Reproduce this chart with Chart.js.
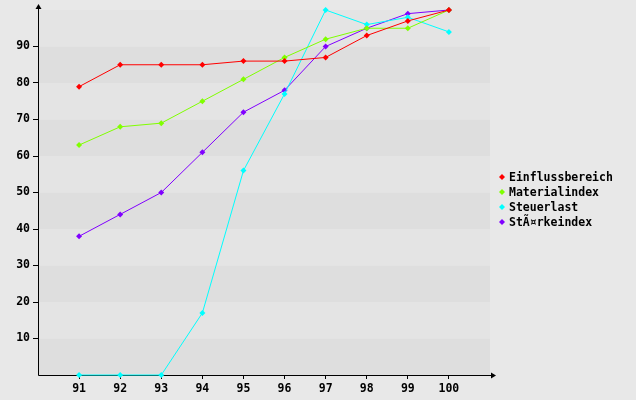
<!doctype html>
<html lang="de">
  <head>
    <meta charset="UTF-8" />
    <title>Indexverlauf 91-100</title>
    <script src="https://cdn.jsdelivr.net/npm/chart.js"></script>
    <style>
      html, body { margin: 0; padding: 0; background: #e8e8e8; }
      .chart-container { position: relative; width: 636px; height: 400px; }
    </style>
  </head>
  <body>
    <div class="chart-container">
      <canvas id="indexChart"></canvas>
    </div>

    <script>
      const years = [91, 92, 93, 94, 95, 96, 97, 98, 99, 100]
      const seriesNames = ['Einflussbereich', 'Materialindex', 'Steuerlast', 'StÃ¤rkeindex']
      const einfluss = [79, 85, 85, 85, 86, 86, 87, 93, 97, 100]
      const material = [63, 68, 69, 75, 81, 87, 92, 95, 95, 100]
      const steuer = [0, 0, 0, 17, 56, 77, 100, 96, 98, 94]
      const staerke = [38, 44, 50, 61, 72, 78, 90, 95, 99, 100]
      const yTicks = [10, 20, 30, 40, 50, 60, 70, 80, 90]
      const colors = ['#ff0000', '#80ff00', '#00ffff', '#8000ff']

      const FONT = { family: 'DejaVu Sans Mono', size: 11.5, weight: 'bold' }

      const makeSet = (i, values) => ({
        label: seriesNames[i],
        data: years.map((y, k) => ({ x: y, y: values[k] })),
        borderColor: colors[i],
        backgroundColor: colors[i],
        borderWidth: 1,
        pointStyle: 'rectRot',
        pointRadius: 3,
        pointBorderWidth: 0,
        tension: 0,
        clip: false
      })

      // Hintergrundstreifen
      const bands = {
        id: 'bands',
        beforeDraw(chart) {
          const { ctx, chartArea: a, scales } = chart
          ctx.save()
          ctx.fillStyle = '#e8e8e8'
          ctx.fillRect(0, 0, chart.width, chart.height)
          for (let v = 0; v < 100; v += 10) {
            const y1 = scales.y.getPixelForValue(v + 10)
            const y0 = scales.y.getPixelForValue(v)
            ctx.fillStyle = (v / 10) % 2 === 0 ? '#dedede' : '#e4e4e4'
            ctx.fillRect(a.left, y1, a.right - a.left, y0 - y1)
          }
          ctx.restore()
        }
      }

      // Achsen mit Pfeilen
      const arrows = {
        id: 'arrows',
        beforeDatasetsDraw(chart) {
          const { ctx, chartArea: a } = chart
          const x0 = Math.round(a.left) + 0.5
          const y0 = Math.round(a.bottom) + 0.5
          ctx.save()
          ctx.strokeStyle = '#000'
          ctx.fillStyle = '#000'
          ctx.lineWidth = 1
          ctx.beginPath()
          ctx.moveTo(x0, y0)
          ctx.lineTo(x0, a.top - 5)
          ctx.moveTo(x0, y0)
          ctx.lineTo(a.right + 5, y0)
          ctx.stroke()
          ctx.beginPath()
          ctx.moveTo(x0, a.top - 6)
          ctx.lineTo(x0 - 3, a.top - 1)
          ctx.lineTo(x0 + 3, a.top - 1)
          ctx.closePath()
          ctx.fill()
          ctx.beginPath()
          ctx.moveTo(a.right + 6, y0)
          ctx.lineTo(a.right + 1, y0 - 3)
          ctx.lineTo(a.right + 1, y0 + 3)
          ctx.closePath()
          ctx.fill()
          ctx.restore()
        }
      }

      // Legende rechts
      const sideLegend = {
        id: 'sideLegend',
        afterDraw(chart) {
          const { ctx, chartArea: a } = chart
          ctx.save()
          ctx.font = `${FONT.weight} ${FONT.size}px ${FONT.family}`
          ctx.textBaseline = 'middle'
          chart.data.datasets.forEach((ds, i) => {
            const y = 177 + i * 15
            const mx = a.right + 12
            ctx.fillStyle = ds.borderColor
            ctx.beginPath()
            ctx.moveTo(mx, y - 3)
            ctx.lineTo(mx + 3, y)
            ctx.lineTo(mx, y + 3)
            ctx.lineTo(mx - 3, y)
            ctx.closePath()
            ctx.fill()
            ctx.fillStyle = '#000'
            ctx.fillText(ds.label, mx + 7, y + 1)
          })
          ctx.restore()
        }
      }

      const ctx = document.getElementById('indexChart').getContext('2d')
      const indexChart = new Chart(ctx, {
        type: 'line',
        data: {
          datasets: [
            makeSet(0, einfluss),
            makeSet(1, material),
            makeSet(2, steuer),
            makeSet(3, staerke)
          ]
        },
        options: {
          responsive: true,
          maintainAspectRatio: false,
          animation: false,
          layout: { padding: { top: 10, right: 146, left: 0, bottom: 0 } },
          plugins: { legend: { display: false }, tooltip: { enabled: false } },
          scales: {
            x: {
              type: 'linear',
              min: 90,
              max: 101,
              afterBuildTicks: (axis) => { axis.ticks = years.map((v) => ({ value: v })) },
              afterFit: (s) => { s.height = 25 },
              border: { display: false },
              grid: { drawOnChartArea: false, drawTicks: true, tickLength: 4, color: '#000' },
              ticks: { color: '#000', font: FONT, padding: 3, maxRotation: 0, autoSkip: false }
            },
            y: {
              type: 'linear',
              min: 0,
              max: 100,
              afterBuildTicks: (axis) => { axis.ticks = yTicks.map((v) => ({ value: v })) },
              afterFit: (s) => { s.width = 38 },
              border: { display: false },
              grid: { drawOnChartArea: false, drawTicks: true, tickLength: 5, color: '#000' },
              ticks: { color: '#000', font: FONT, padding: 3 }
            }
          }
        },
        plugins: [bands, arrows, sideLegend]
      })
    </script>
  </body>
</html>
